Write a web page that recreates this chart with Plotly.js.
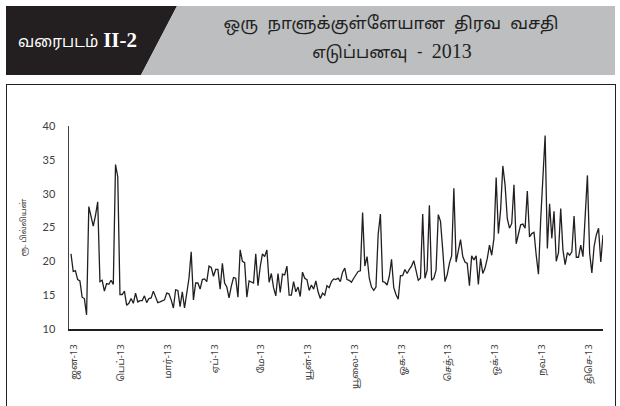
<!DOCTYPE html>
<html>
<head>
<meta charset="utf-8">
<script src="https://cdn.plot.ly/plotly-3.0.1.min.js"></script>
<style>
  html, body { margin: 0; padding: 0; background: #ffffff; width: 620px; height: 406px; overflow: hidden; }
  #frame { position: absolute; left: 6px; top: 84px; width: 608px; height: 340px; border: 1.5px solid #231f20; }
  #header { position: absolute; left: 0; top: 0; }
  #chart { position: absolute; left: 0; top: 0; width: 620px; height: 406px; }
</style>
</head>
<body>
<div id="frame"></div>
<svg id="header" width="620" height="80" xmlns="http://www.w3.org/2000/svg">
  <polygon points="6,6 177,6 141,75 6,75" fill="#231f20"/>
  <polygon points="177,6 615,6 615,75 141,75" fill="#bcbec0"/>
  <text x="18" y="47" fill="#ffffff" font-size="15.5" font-family="'Noto Sans Tamil','Noto Serif Tamil','Liberation Serif',serif">வரைபடம்<tspan dx="5" font-family="'Liberation Serif',serif" font-weight="bold" font-size="21">II-2</tspan></text>
  <text x="391" y="29" text-anchor="middle" fill="#231f20" font-size="17" word-spacing="5" font-family="'Noto Sans Tamil','Noto Serif Tamil','Liberation Serif',serif">ஒரு நாளுக்குள்ளேயான திரவ வசதி</text>
  <text x="392" y="58" text-anchor="middle" fill="#231f20" font-size="17" word-spacing="5" font-family="'Noto Sans Tamil','Noto Serif Tamil','Liberation Serif',serif">எடுப்பனவு - <tspan font-family="'Liberation Serif',serif" font-size="20">2013</tspan></text>
</svg>
<div id="chart"></div>
<script>
// Daily intraday liquidity facility usage, Rs. billion, 2013
const values = [
  21.1, 18.5, 18.6, 17.3, 17.1, 14.7, 14.5, 12.1, 28.1, 26.5,
  25.2, 26.8, 28.8, 17.0, 17.2, 15.6, 16.7, 16.6, 17.2, 16.6,
  34.3, 32.5, 15.1, 15.1, 15.6, 13.5, 13.8, 14.5, 13.8, 15.3,
  14.0, 14.2, 14.2, 14.9, 13.9, 14.5, 14.6, 15.6, 14.8, 13.9,
  14.0, 14.1, 14.3, 15.3, 15.2, 14.3, 13.1, 15.8, 15.7, 13.3,
  15.5, 13.1, 15.0, 17.5, 21.4, 14.3, 16.8, 16.8, 15.9, 17.3,
  17.4, 17.0, 19.3, 19.1, 17.8, 18.8, 18.8, 15.9, 19.7, 16.8,
  16.2, 14.6, 16.3, 17.6, 17.5, 14.7, 21.7,
  20.0, 19.8, 14.7, 17.1, 16.9, 16.8, 21.1, 16.4, 19.2, 21.1,
  20.7, 21.7, 16.9, 18.2, 16.1, 14.9, 18.2, 15.4, 18.1, 18.0,
  19.3, 15.0, 15.0, 17.0, 15.5, 16.2, 14.8, 18.4, 17.5, 17.3,
  15.7, 16.5, 15.9, 17.1, 15.5, 14.5, 15.3, 15.0, 16.4, 16.1,
  17.0, 17.4, 17.3, 17.5, 17.0, 18.4, 19.0, 17.3, 17.2,
  16.9, 17.5, 18.0, 18.5, 18.6, 27.2, 19.3, 20.7, 17.5, 16.2,
  15.7, 16.2, 24.0, 27.0, 17.0, 16.9, 16.5, 17.8, 20.3, 16.1,
  15.1, 14.4, 17.9, 17.9, 18.8, 18.2, 18.8, 19.3, 20.1, 18.8,
  17.2,
  17.5, 27.0, 17.5, 18.7, 28.3, 17.2, 17.5, 18.7, 26.9, 25.9,
  21.7, 17.0, 18.0, 19.7, 20.8, 30.8, 19.9, 21.4, 23.2, 20.7,
  19.9, 19.7, 16.4, 20.8, 20.2, 20.8, 16.6, 20.4, 18.2,
  19.0, 20.4, 22.4, 20.9, 23.4, 32.4, 24.1, 27.6, 34.1,
  31.3, 26.3, 24.9, 25.6, 31.3, 22.6, 24.1, 25.4, 25.5, 24.9,
  30.4, 23.6, 24.1, 24.3, 20.9, 18.1, 26.1, 32.7, 38.6, 21.9,
  28.5, 23.4, 27.4, 20.0, 21.3, 27.8, 21.7, 19.5, 21.3, 20.9,
  21.4, 26.7, 20.6, 20.6, 22.4, 20.7, 26.5, 32.7, 21.2, 18.3,
  22.2, 23.9, 24.9, 19.9, 23.9
];
const monthLabels = ['ஜன-13', 'பெப்-13', 'மார்-13', 'ஏப்-13', 'மே-13', 'யூன்-13',
                     'யூலை-13', 'ஓக-13', 'செத்-13', 'ஒக்-13', 'நவ-13', 'திசெ-13'];
const daysPerLabel = 21;
const yTicks = [10, 15, 20, 25, 30, 35, 40];
const yTitle = 'ரூ. பில்லியன்';

const days = values.map((v, i) => i);
const tickPos = monthLabels.map((m, k) => k * daysPerLabel + 1.5);

const tamilFont = "'Noto Sans Tamil', 'Lato', 'DejaVu Sans', sans-serif";

Plotly.newPlot('chart', [{
  x: days,
  y: values,
  type: 'scatter',
  mode: 'lines',
  line: { color: '#231f20', width: 1.3 },
  hoverinfo: 'skip'
}], {
  width: 620,
  height: 406,
  margin: { l: 69, r: 17, t: 126, b: 77 },
  paper_bgcolor: 'rgba(0,0,0,0)',
  plot_bgcolor: 'rgba(0,0,0,0)',
  showlegend: false,
  xaxis: {
    range: [-0.9, values.length - 1],
    tickmode: 'array',
    tickvals: tickPos,
    ticktext: monthLabels,
    tickangle: -90,
    ticks: '',
    ticklabelstandoff: 10,
    showgrid: false,
    zeroline: false,
    showline: true,
    linecolor: '#231f20',
    linewidth: 1.5,
    tickfont: { family: tamilFont, size: 9.5, color: '#404040' },
    fixedrange: true
  },
  yaxis: {
    range: [10, 40],
    tickmode: 'array',
    tickvals: yTicks,
    ticks: '',
    ticklabelstandoff: 10,
    showgrid: false,
    zeroline: false,
    showline: true,
    linecolor: '#404040',
    linewidth: 1.5,
    tickfont: { family: "'Lato', 'DejaVu Sans', sans-serif", size: 11, color: '#404040' },
    title: { text: yTitle, standoff: 14, font: { family: tamilFont, size: 8, color: '#404040' } },
    fixedrange: true
  }
}, { staticPlot: true, displayModeBar: false });
</script>
</body>
</html>
